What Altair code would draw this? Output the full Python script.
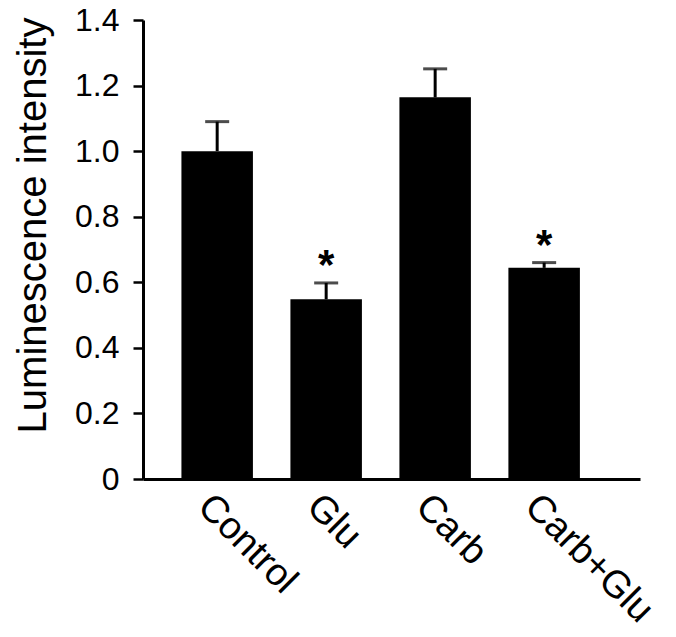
import altair as alt
import pandas as pd

categories = ["Control", "Glu", "Carb", "Carb+Glu"]
means = [1.00, 0.548, 1.164, 0.644]
errors = [0.09, 0.050, 0.087, 0.016]
significance = ["", "*", "", "*"]

df = pd.DataFrame({
    "group": categories,
    "mean": means,
    "err": errors,
    "sig": significance,
})
df["top"] = df["mean"] + df["err"]

FONT = "Liberation Sans, Arial, Helvetica, sans-serif"

x_enc = alt.X(
    "group:N",
    sort=categories,
    scale=alt.Scale(paddingInner=0.344, paddingOuter=0.452, align=0.39),
    axis=alt.Axis(
        title=None,
        labelAngle=45,
        labelAlign="left",
        labelBaseline="top",
        labelFont=FONT,
        labelFontSize=38,
        labelColor="black",
        labelPadding=8,
        ticks=False,
        domainColor="black",
        domainWidth=3,
    ),
)

y_scale = alt.Scale(domain=[0, 1.4], nice=False)

bars = alt.Chart(df).mark_bar(color="black").encode(
    x=x_enc,
    y=alt.Y(
        "mean:Q",
        scale=y_scale,
        axis=alt.Axis(
            title="Luminescence intensity",
            titleFont=FONT,
            titleFontSize=40,
            titleFontWeight="normal",
            titleColor="black",
            titleAngle=-90,
            titleAlign="center",
            titleBaseline="alphabetic",
            titleX=-98,
            titleY=205,
            values=[0, 0.2, 0.4, 0.6, 0.8, 1.0, 1.2, 1.4],
            labelExpr="datum.value == 0 ? '0' : format(datum.value, '.1f')",
            labelFont=FONT,
            labelFontSize=32,
            labelColor="black",
            labelPadding=14,
            tickSize=10,
            tickWidth=2.5,
            tickColor="black",
            domainColor="black",
            domainWidth=3,
            grid=False,
        ),
    ),
)

stems = alt.Chart(df).mark_rule(color="black", strokeWidth=3).encode(
    x=alt.X("group:N", sort=categories),
    y=alt.Y("mean:Q", scale=y_scale),
    y2="top:Q",
)

caps = alt.Chart(df).mark_tick(color="black", thickness=3, size=24).encode(
    x=alt.X("group:N", sort=categories),
    y=alt.Y("top:Q", scale=y_scale),
)

stars = alt.Chart(df).mark_text(
    font=FONT, fontSize=42, fontWeight="bold", color="black",
    baseline="alphabetic", align="center", dy=-4,
).encode(
    x=alt.X("group:N", sort=categories),
    y=alt.Y("top:Q", scale=y_scale),
    text="sig:N",
)

chart = (
    alt.layer(bars, stems, caps, stars)
    .properties(
        width=497,
        height=459,
        autosize=alt.AutoSizeParams(type="none"),
        padding={"left": 135, "top": 12, "right": 28, "bottom": 157},
        background="white",
    )
    .configure_view(stroke=None)
)

chart.save("out.html", embed_options={"renderer": "svg", "actions": False})
